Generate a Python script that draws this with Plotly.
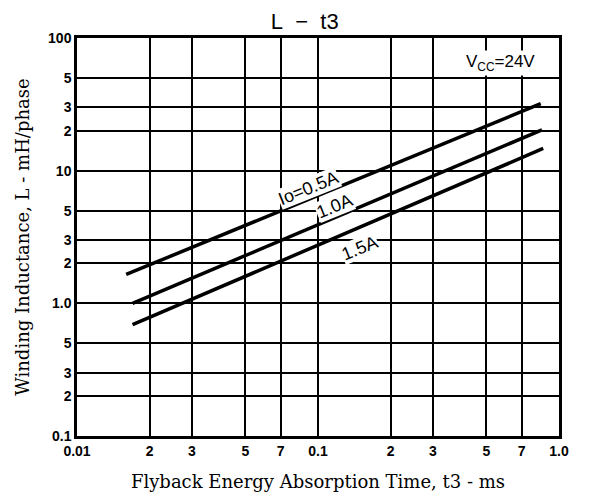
import plotly.graph_objects as go

# Data (log-log)
t3_05 = [0.016, 0.84]
L_05 = [1.65, 32.0]
t3_10 = [0.017, 0.85]
L_10 = [1.0, 20.3]
t3_15 = [0.017, 0.86]
L_15 = [0.69, 14.7]

x_tickvals = [0.01, 0.02, 0.03, 0.05, 0.07, 0.1, 0.2, 0.3, 0.5, 0.7, 1.0]
x_ticktext = ["0.01", "2", "3", "5", "7", "0.1", "2", "3", "5", "7", "1.0"]
y_tickvals = [0.1, 0.2, 0.3, 0.5, 1, 2, 3, 5, 10, 20, 30, 50, 100]
y_ticktext = ["0.1", "2", "3", "5", "1.0", "2", "3", "5", "10", "2", "3", "5", "100"]

series = [
    (t3_05, L_05),
    (t3_10, L_10),
    (t3_15, L_15),
]

fig = go.Figure()
for xs, ys in series:
    fig.add_trace(go.Scatter(x=xs, y=ys, mode="lines",
                             line=dict(color="black", width=3.5),
                             showlegend=False, hoverinfo="skip"))

tickfont = dict(family="Liberation Sans", size=14, color="black", weight="bold")
serif = dict(family="DejaVu Serif", size=18, color="black")

fig.update_xaxes(type="log", range=[-2, 0], tickmode="array",
                 tickvals=x_tickvals, ticktext=x_ticktext,
                 showgrid=True, gridcolor="black", gridwidth=2,
                 showline=True, linecolor="black", linewidth=2.5, mirror=True,
                 ticks="", tickfont=tickfont, zeroline=False, automargin=False,
                 title=dict(text="Flyback Energy Absorption Time, t3 - ms",
                            font=serif, standoff=18))
fig.update_yaxes(type="log", range=[-1, 2], tickmode="array",
                 tickvals=y_tickvals, ticktext=y_ticktext,
                 showgrid=True, gridcolor="black", gridwidth=2,
                 showline=True, linecolor="black", linewidth=2.5, mirror=True,
                 ticks="", tickfont=tickfont, zeroline=False, automargin=False,
                 title=dict(text="Winding Inductance, L - mH/phase",
                            font=serif, standoff=14))

lab_font = dict(family="Liberation Sans", size=18, color="black")
fig.add_annotation(xref="paper", yref="paper", x=0.481, y=0.623,
                   text="Io=0.5A", textangle=-22, showarrow=False,
                   font=lab_font, bgcolor="white", borderpad=0)
fig.add_annotation(xref="paper", yref="paper", x=0.535, y=0.578,
                   text="1.0A", textangle=-22, showarrow=False,
                   font=lab_font, bgcolor="white", borderpad=0)
fig.add_annotation(xref="paper", yref="paper", x=0.587, y=0.473,
                   text="1.5A", textangle=-22, showarrow=False,
                   font=lab_font, bgcolor="white", borderpad=0)
fig.add_annotation(xref="paper", yref="paper", x=0.954, y=0.937,
                   xanchor="right", yanchor="middle",
                   text="V<sub>CC</sub>=24V", showarrow=False,
                   font=dict(family="Liberation Sans", size=17, color="black"),
                   bgcolor="white")

# page body has an 8px default margin: shift margins to compensate
fig.update_layout(
    width=590, height=497,
    margin=dict(l=69, r=39, t=30, b=69),
    paper_bgcolor="white", plot_bgcolor="white",
    title=dict(text="L\u00a0\u00a0\u2212\u00a0\u00a0t3", x=0.503, xanchor="center",
               y=0.973, yanchor="middle",
               font=dict(family="Liberation Sans", size=22, color="black")),
)

fig.write_html("out.html")
